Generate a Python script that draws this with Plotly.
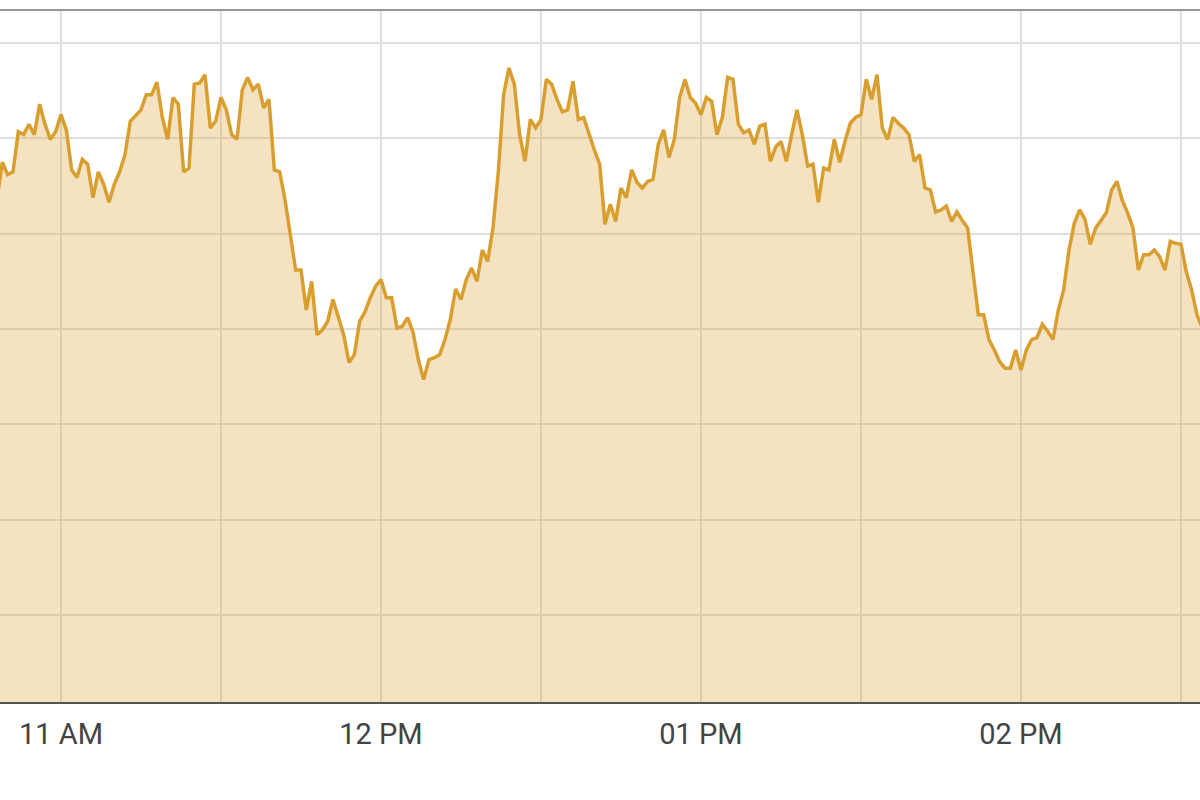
import pandas as pd
import plotly.graph_objects as go

# one reading per minute, 10:48 to 14:34
START = "2024-03-15 10:48"
VALUES = [
    104.36, 104.75, 104.62, 104.65, 105.07, 105.04, 105.15, 105.04, 105.36, 105.15,
    104.99, 105.07, 105.25, 105.09, 104.67, 104.59, 104.78, 104.73, 104.38, 104.65,
    104.52, 104.33, 104.52, 104.65, 104.83, 105.18, 105.24, 105.30, 105.46, 105.46,
    105.59, 105.22, 104.99, 105.43, 105.36, 104.65, 104.69, 105.57, 105.58, 105.67,
    105.11, 105.18, 105.43, 105.30, 105.04, 104.99, 105.51, 105.64, 105.51, 105.57,
    105.32, 105.41, 104.67, 104.65, 104.36, 103.97, 103.62, 103.62, 103.20, 103.50,
    102.94, 102.99, 103.08, 103.31, 103.12, 102.94, 102.65, 102.73, 103.08, 103.18,
    103.33, 103.45, 103.52, 103.33, 103.33, 103.01, 103.03, 103.12, 102.97, 102.68,
    102.47, 102.68, 102.70, 102.73, 102.89, 103.10, 103.42, 103.31, 103.52, 103.64,
    103.50, 103.83, 103.71, 104.06, 104.65, 105.46, 105.74, 105.57, 105.04, 104.76,
    105.20, 105.11, 105.20, 105.62, 105.57, 105.41, 105.28, 105.30, 105.60, 105.20,
    105.22, 105.04, 104.88, 104.73, 104.10, 104.31, 104.13, 104.48, 104.38, 104.67,
    104.54, 104.48, 104.55, 104.57, 104.94, 105.09, 104.80, 104.99, 105.43, 105.62,
    105.43, 105.37, 105.25, 105.43, 105.39, 105.04, 105.22, 105.64, 105.62, 105.15,
    105.06, 105.09, 104.94, 105.13, 105.15, 104.76, 104.91, 104.97, 104.76, 105.04,
    105.30, 105.04, 104.71, 104.73, 104.33, 104.69, 104.67, 104.99, 104.75, 104.97,
    105.16, 105.22, 105.25, 105.62, 105.41, 105.67, 105.11, 104.99, 105.22, 105.16,
    105.11, 105.04, 104.76, 104.83, 104.48, 104.46, 104.23, 104.25, 104.29, 104.13,
    104.23, 104.14, 104.06, 103.60, 103.15, 103.15, 102.89, 102.78, 102.66, 102.59,
    102.59, 102.78, 102.57, 102.78, 102.89, 102.91, 103.05, 102.98, 102.89, 103.20,
    103.41, 103.83, 104.11, 104.25, 104.15, 103.89, 104.06, 104.14, 104.22, 104.46,
    104.55, 104.35, 104.22, 104.06, 103.62, 103.78, 103.78, 103.83, 103.76, 103.62,
    103.92, 103.90, 103.89, 103.60, 103.41, 103.15, 103.01,
]

X_RANGE = ["2024-03-15 10:48:34", "2024-03-15 14:33:34"]
Y_RANGE = [99.087, 106.348]

LINE_COLOR = "#D89F30"
FILL_COLOR = "rgba(217,160,49,0.3)"
GRID_COLOR = "#e0e0e0"

times = pd.date_range(START, periods=len(VALUES), freq="min")

fig = go.Figure()
fig.add_trace(
    go.Scatter(
        x=times,
        y=VALUES,
        mode="lines",
        line=dict(color=LINE_COLOR, width=3.5),
        fill="tozeroy",
        fillcolor=FILL_COLOR,
        hoverinfo="x+y",
    )
)

fig.update_layout(
    width=1200,
    height=800,
    margin=dict(l=0, r=0, t=10, b=98),
    paper_bgcolor="white",
    plot_bgcolor="white",
    showlegend=False,
    font=dict(family="Roboto", size=29, color="#444"),
    xaxis=dict(
        type="date",
        range=X_RANGE,
        tick0="2024-03-15 11:00",
        dtick=3600000,
        tickformat="%I %p",
        ticks="",
        ticklabelstandoff=5,
        showgrid=True,
        gridcolor=GRID_COLOR,
        gridwidth=2,
        minor=dict(dtick=1800000, showgrid=True, gridcolor=GRID_COLOR, gridwidth=2),
        showline=True,
        linecolor="#555",
        linewidth=2,
        zeroline=False,
    ),
    yaxis=dict(
        range=Y_RANGE,
        tick0=100,
        dtick=1,
        showticklabels=False,
        showgrid=True,
        gridcolor=GRID_COLOR,
        gridwidth=2,
        zeroline=False,
    ),
    shapes=[
        dict(type="line", xref="paper", yref="paper", x0=0, x1=1, y0=1, y1=1,
             line=dict(color="#999", width=2)),
    ],
)

# drop the browser's default body margin so the figure sits at the page corner
fig.write_html(
    "out.html",
    config={"displayModeBar": False},
    post_script="document.body.style.margin = '0';",
)
